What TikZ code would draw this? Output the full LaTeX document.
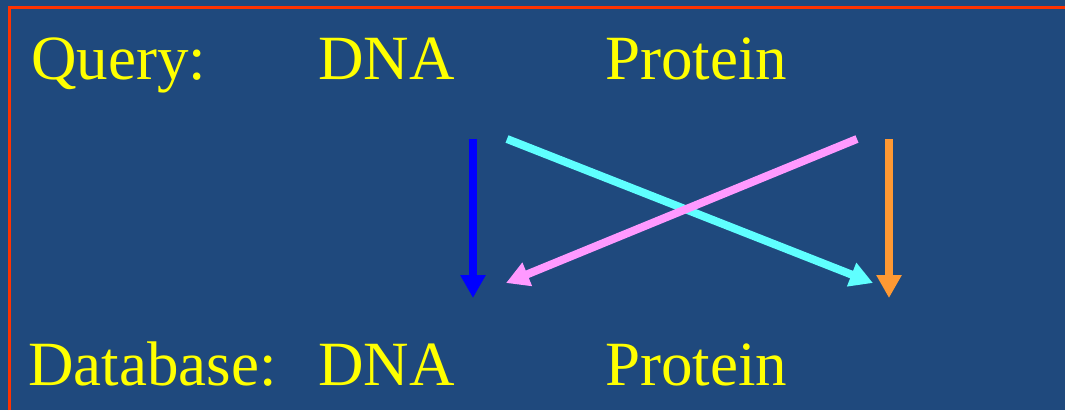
\documentclass[tikz,border=0pt]{standalone}
\usepackage{fontspec}
\setmainfont{Liberation Serif}
\usepackage{tikz}
\usetikzlibrary{positioning,arrows.meta}
\definecolor{slidebg}{RGB}{31,73,125}
\definecolor{slidered}{RGB}{255,51,0}
\definecolor{txtyellow}{RGB}{255,255,0}
\definecolor{arrblue}{RGB}{0,0,255}
\definecolor{arrcyan}{RGB}{95,255,255}
\definecolor{arrpink}{RGB}{255,153,255}
\definecolor{arrorange}{RGB}{255,153,51}

\begin{document}
\begin{tikzpicture}[x=1pt, y=-1pt,
      every node/.style={font=\fontsize{63}{70}\selectfont, text=txtyellow, inner sep=0pt, anchor=base west},
      maparrow/.style={line width=8pt, -{Triangle[length=23pt, width=24pt]}}
    ]
      % background and frame
      \useasboundingbox (0,0) rectangle (1065,410);
      \fill[slidebg] (0,0) rectangle (1065,410);
      \draw[slidered, line width=3pt] (9,410) -- (9,7) -- (1065,7);

      % Row 1: query
      \node (qlabel) at (31,79) {Query:};
      \node (qdna) at (318,79) {DNA};
      \node (qprot) at (605,79) {Protein};

      % Row 2: database
      \node (dlabel) at (28,385) {Database:};
      \node (ddna) at (318,385) {DNA};
      \node (dprot) at (605,385) {Protein};

      % arrow ends
      \coordinate (qdnaout) at (473,139);
      \coordinate (qdnacross) at (507,139);
      \coordinate (qprotcross) at (857,139);
      \coordinate (qprotout) at (889,139);
      \coordinate (ddnain) at (473,298);
      \coordinate (ddnacross) at (506,283);
      \coordinate (dprotcross) at (873,283);
      \coordinate (dprotin) at (889,298);

      \draw[maparrow, arrblue] (qdnaout) -- (ddnain);
      \draw[maparrow, arrcyan] (qdnacross) -- (dprotcross);
      \draw[maparrow, arrpink] (qprotcross) -- (ddnacross);
      \draw[maparrow, arrorange] (qprotout) -- (dprotin);
    \end{tikzpicture}
\end{document}
